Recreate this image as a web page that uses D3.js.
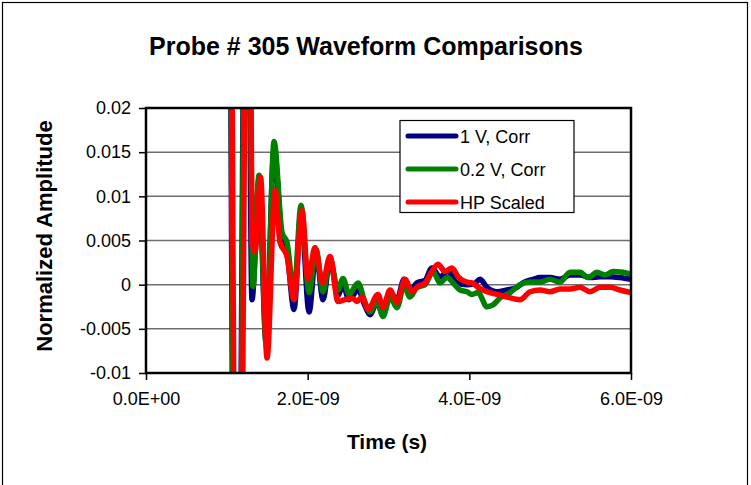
<!DOCTYPE html>
<html>
<head>
<meta charset="utf-8">
<script src="https://cdn.jsdelivr.net/npm/d3@7"></script>
<style>
  html, body { margin: 0; padding: 0; background: #fff; }
  svg { display: block; font-family: "Liberation Sans", Arial, sans-serif; }
</style>
</head>
<body>
<svg id="chart" width="751" height="485"></svg>
<script>
// Time axis in nanoseconds (scaled to seconds when plotted)
const timeBlueNs = [1.03, 1.12, 1.25, 1.311, 1.398, 1.485, 1.584, 1.683, 1.744, 1.831, 1.918, 2.017, 2.103, 2.190, 2.276, 2.375, 2.437, 2.511, 2.623, 2.709, 2.771, 2.858, 2.932, 3.019, 3.105, 3.192, 3.266, 3.353, 3.452, 3.538, 3.637, 3.736, 3.848, 3.971, 4.058, 4.132, 4.219, 4.342, 4.466, 4.590, 4.664, 4.788, 4.875, 4.998, 5.122, 5.246, 5.370, 5.493, 5.617, 5.741, 5.864, 6.0];
const ampBlue    = [0.060, -0.060, 0.060, -0.0017, 0.0119, -0.0065, 0.0153, 0.0051, 0.0037, -0.0028, 0.0083, -0.0031, 0.0037, -0.0017, 0.0028, -0.0012, 0.0000, -0.0017, -0.0006, -0.0024, -0.0034, -0.0020, -0.0034, -0.0009, -0.0017, 0.0006, -0.0006, 0.0002, 0.0005, 0.0019, 0.0009, 0.0015, 0.0002, 0.0000, 0.0001, 0.0006, -0.0003, -0.0008, -0.0006, -0.0003, 0.0002, 0.0006, 0.0008, 0.0008, 0.0006, 0.0011, 0.0011, 0.0008, 0.0009, 0.0009, 0.0008, 0.0006];

const timeGreenNs = [1.035, 1.125, 1.255, 1.324, 1.398, 1.49, 1.584, 1.683, 1.744, 1.831, 1.918, 2.017, 2.103, 2.190, 2.276, 2.375, 2.437, 2.511, 2.623, 2.709, 2.771, 2.858, 2.932, 3.019, 3.105, 3.192, 3.266, 3.353, 3.452, 3.551, 3.637, 3.724, 3.798, 3.885, 3.971, 4.033, 4.107, 4.219, 4.293, 4.380, 4.503, 4.627, 4.751, 4.875, 4.998, 5.122, 5.246, 5.370, 5.468, 5.580, 5.679, 5.778, 5.901, 6.0];
const ampGreen    = [0.060, -0.060, 0.060, -0.0002, 0.0124, -0.0070, 0.0162, 0.0059, 0.0048, -0.0009, 0.0090, -0.0009, 0.0040, -0.0008, 0.0030, -0.0006, 0.0007, -0.0011, 0.0002, -0.0020, -0.0031, -0.0019, -0.0036, -0.0014, -0.0026, -0.0001, -0.0014, -0.0003, 0.0000, 0.0015, 0.0002, 0.0008, 0.0002, -0.0006, -0.0008, -0.0011, -0.0009, -0.0025, -0.0023, -0.0015, -0.0009, 0.0000, 0.0003, 0.0003, 0.0006, 0.0003, 0.0014, 0.0014, 0.0008, 0.0014, 0.0011, 0.0015, 0.0014, 0.0012];

const timeRedNs = [1.045, 1.14, 1.27, 1.311, 1.349, 1.417, 1.497, 1.596, 1.658, 1.744, 1.831, 1.930, 2.004, 2.091, 2.184, 2.276, 2.375, 2.462, 2.549, 2.610, 2.672, 2.747, 2.870, 2.932, 3.019, 3.105, 3.204, 3.291, 3.365, 3.452, 3.538, 3.613, 3.699, 3.786, 3.860, 3.971, 4.033, 4.107, 4.219, 4.342, 4.466, 4.627, 4.751, 4.875, 4.998, 5.122, 5.246, 5.370, 5.493, 5.617, 5.741, 5.864, 6.0];
const ampRed    = [0.060, -0.060, 0.060, 0.0051, 0.0037, 0.0122, -0.0083, 0.0107, 0.0048, 0.0032, -0.0017, 0.0084, 0.0006, 0.0042, 0.0002, 0.0032, -0.0019, -0.0017, -0.0015, -0.0019, -0.0014, -0.0028, -0.0011, -0.0026, -0.0006, -0.0020, 0.0006, -0.0008, -0.0002, 0.0002, 0.0015, 0.0023, 0.0015, 0.0019, 0.0009, 0.0003, 0.0002, -0.0003, -0.0008, -0.0011, -0.0014, -0.0017, -0.0008, -0.0006, -0.0008, -0.0005, -0.0005, -0.0003, -0.0008, -0.0003, -0.0003, -0.0006, -0.0009];

const seriesNames  = ["1 V, Corr", "0.2 V, Corr", "HP Scaled"];
const seriesColors = ["#000080", "#008000", "#ff0000"];

const yTickValues = [-0.01, -0.005, 0, 0.005, 0.01, 0.015, 0.02];
const yTickLabels = ["-0.01", "-0.005", "0", "0.005", "0.01", "0.015", "0.02"];
const xTickValues = [0, 2e-9, 4e-9, 6e-9];
const xTickLabels = ["0.0E+00", "2.0E-09", "4.0E-09", "6.0E-09"];

const chartTitle = "Probe # 305 Waveform Comparisons";
const xTitle = "Time (s)";
const yTitle = "Normalized Amplitude";

// Layout
const svg = d3.select("#chart");
const plot = { left: 146, top: 108, right: 631, bottom: 373 };

const x = d3.scaleLinear().domain([0, 6e-9]).range([plot.left, plot.right]);
const y = d3.scaleLinear().domain([-0.01, 0.02]).range([plot.bottom, plot.top]);

// Outer frame
svg.append("rect")
  .attr("x", 2.5).attr("y", 2.5).attr("width", 745).attr("height", 490)
  .attr("fill", "#fff").attr("stroke", "#000").attr("stroke-width", 1.2);

// Title
svg.append("text")
  .attr("x", 366).attr("y", 55)
  .attr("text-anchor", "middle")
  .attr("font-size", 25).attr("font-weight", "bold")
  .text(chartTitle);

// Horizontal gridlines
svg.append("g")
  .selectAll("line")
  .data(yTickValues.filter(v => v !== -0.01 && v !== 0.02))
  .join("line")
  .attr("x1", plot.left).attr("x2", plot.right)
  .attr("y1", d => y(d)).attr("y2", d => y(d))
  .attr("stroke", "#6e6e6e").attr("stroke-width", 1.5);

// Axes
const yAxis = d3.axisLeft(y)
  .tickValues(yTickValues)
  .tickFormat((d, i) => yTickLabels[i])
  .tickSize(7).tickPadding(8);
const gy = svg.append("g").attr("transform", `translate(${plot.left},0)`).call(yAxis);
gy.select(".domain").remove();
gy.selectAll(".tick line").attr("stroke", "#000").attr("stroke-width", 1.5);
gy.selectAll(".tick text").attr("font-size", 18).attr("fill", "#000")
  .attr("font-family", "Liberation Sans, Arial, sans-serif");

const xAxis = d3.axisBottom(x)
  .tickValues(xTickValues)
  .tickFormat((d, i) => xTickLabels[i])
  .tickSize(7).tickPadding(12);
const gx = svg.append("g").attr("transform", `translate(0,${plot.bottom})`).call(xAxis);
gx.select(".domain").remove();
gx.selectAll(".tick line").attr("stroke", "#000").attr("stroke-width", 1.5);
gx.selectAll(".tick text").attr("font-size", 18).attr("fill", "#000")
  .attr("font-family", "Liberation Sans, Arial, sans-serif");

// Clip region for the waveforms
svg.append("clipPath").attr("id", "plot-clip")
  .append("rect")
  .attr("x", plot.left).attr("y", plot.top)
  .attr("width", plot.right - plot.left).attr("height", plot.bottom - plot.top);

const series = [
  { t: timeBlueNs,  v: ampBlue },
  { t: timeGreenNs, v: ampGreen },
  { t: timeRedNs,   v: ampRed }
];

const line = d3.line()
  .x(d => x(d[0] * 1e-9))
  .y(d => y(d[1]))
  .curve(d3.curveMonotoneX);

const gLines = svg.append("g").attr("clip-path", "url(#plot-clip)");
series.forEach((s, i) => {
  gLines.append("path")
    .datum(s.t.map((t, k) => [t, s.v[k]]))
    .attr("d", line)
    .attr("fill", "none")
    .attr("stroke", seriesColors[i])
    .attr("stroke-width", 5.5)
    .attr("stroke-linejoin", "round")
    .attr("stroke-linecap", "round");
});

// Plot frame
svg.append("rect")
  .attr("x", plot.left).attr("y", plot.top)
  .attr("width", plot.right - plot.left).attr("height", plot.bottom - plot.top)
  .attr("fill", "none").attr("stroke", "#000").attr("stroke-width", 2.5);

// Legend
const legend = svg.append("g");
legend.append("rect")
  .attr("x", 400).attr("y", 120.5).attr("width", 174).attr("height", 92)
  .attr("fill", "#fff").attr("stroke", "#000").attr("stroke-width", 1.2);
seriesNames.forEach((name, i) => {
  const cy = 136 + i * 33;
  legend.append("line")
    .attr("x1", 408).attr("x2", 456).attr("y1", cy).attr("y2", cy)
    .attr("stroke", seriesColors[i]).attr("stroke-width", 5)
    .attr("stroke-linecap", "round");
  legend.append("text")
    .attr("x", 460).attr("y", cy + 6.5)
    .attr("font-size", 18)
    .text(name);
});

// Axis titles
svg.append("text")
  .attr("x", 387).attr("y", 449)
  .attr("text-anchor", "middle")
  .attr("font-size", 21).attr("font-weight", "bold")
  .text(xTitle);

svg.append("text")
  .attr("transform", "translate(52,236) rotate(-90)")
  .attr("text-anchor", "middle")
  .attr("font-size", 22).attr("font-weight", "bold")
  .text(yTitle);
</script>
</body>
</html>
